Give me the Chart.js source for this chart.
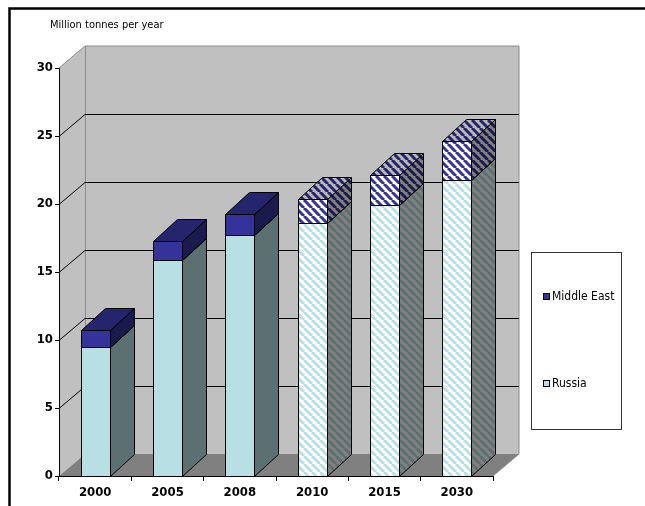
<!DOCTYPE html>
<html>
<head>
<meta charset="utf-8">
<script src="https://cdn.jsdelivr.net/npm/chart.js@4"></script>
<style>
  html, body { margin: 0; padding: 0; background: #fff; }
  canvas { display: block; }
</style>
</head>
<body>
<canvas id="grafico" width="645" height="506"></canvas>
<script>
// Producción en millones de toneladas por año, barras apiladas en 3D
const anios = ["2000", "2005", "2008", "2010", "2015", "2030"];
const rusia = [9.5, 15.9, 17.7, 18.6, 19.9, 21.8];
const medioOriente = [1.2, 1.4, 1.6, 1.8, 2.2, 2.8];
const proyectado = [false, false, false, true, true, true];
const marcasY = [0, 5, 10, 15, 20, 25, 30];

const FUENTE = "'DejaVu Sans Condensed', 'DejaVu Sans', sans-serif";
const DX_PARED = 26, DX_BARRA = 24, DY = 22;

function sombra(hex, f) {
  const n = parseInt(hex.slice(1), 16);
  const r = Math.round(((n >> 16) & 255) * f);
  const g = Math.round(((n >> 8) & 255) * f);
  const b = Math.round((n & 255) * f);
  return `rgb(${r},${g},${b})`;
}

function rayado(ctx, fondo, linea) {
  const t = 8;
  const c = document.createElement("canvas");
  c.width = t; c.height = t;
  const p = c.getContext("2d");
  p.fillStyle = fondo;
  p.fillRect(0, 0, t, t);
  p.strokeStyle = linea;
  p.lineWidth = 3;
  for (let k = -1; k <= 1; k++) {
    p.beginPath();
    p.moveTo(k * t, 0);
    p.lineTo(k * t + t, t);
    p.stroke();
  }
  return ctx.createPattern(c, "repeat");
}

function poligono(ctx, pts, relleno, borde) {
  ctx.beginPath();
  ctx.moveTo(pts[0][0], pts[0][1]);
  for (let i = 1; i < pts.length; i++) ctx.lineTo(pts[i][0], pts[i][1]);
  ctx.closePath();
  if (relleno) { ctx.fillStyle = relleno; ctx.fill(); }
  if (borde) { ctx.strokeStyle = borde; ctx.lineWidth = 1; ctx.stroke(); }
}

function bloque(ctx, x0, x1, yt, yb, color, rayas) {
  const caras = [1, 0.72, 0.5].map(f =>
    rayas ? rayado(ctx, sombra("#ffffff", f), sombra(color, f)) : sombra(color, f)
  );
  // frente
  poligono(ctx, [[x0, yt], [x1, yt], [x1, yb], [x0, yb]], caras[0], "#000");
  // lateral
  poligono(ctx, [[x1, yb], [x1, yt], [x1 + DX_BARRA, yt - DY], [x1 + DX_BARRA, yb - DY]], caras[2], "#000");
  // tapa
  poligono(ctx, [[x0, yt], [x1, yt], [x1 + DX_BARRA, yt - DY], [x0 + DX_BARRA, yt - DY]], caras[1], "#000");
}

const escena3d = {
  id: "escena3d",
  beforeDraw(chart) {
    const { ctx, chartArea: a, scales: { y } } = chart;
    const L = a.left, R = a.right, T = a.top, B = a.bottom;
    ctx.save();

    // marco exterior
    ctx.strokeStyle = "#000";
    ctx.lineWidth = 2.5;
    ctx.beginPath();
    ctx.moveTo(9.5, 506);
    ctx.lineTo(9.5, 8.5);
    ctx.lineTo(645, 8.5);
    ctx.stroke();

    // título del eje
    ctx.fillStyle = "#000";
    ctx.font = `11px ${FUENTE}`;
    ctx.textBaseline = "middle";
    ctx.fillText("Million tonnes per year", 50, 25);

    // paredes y piso
    poligono(ctx, [[L, T], [L + DX_PARED, T - DY], [L + DX_PARED, B - DY], [L, B]], "#c0c0c0");
    poligono(ctx, [[L + DX_PARED, T - DY], [R + DX_PARED, T - DY], [R + DX_PARED, B - DY], [L + DX_PARED, B - DY]], "#c0c0c0");
    poligono(ctx, [[L, B], [R, B], [R + DX_PARED, B - DY], [L + DX_PARED, B - DY]], "#808080");

    ctx.strokeStyle = "#8c8c8c";
    ctx.lineWidth = 1;
    ctx.beginPath();
    ctx.moveTo(L, T);
    ctx.lineTo(L + DX_PARED, T - DY);
    ctx.lineTo(R + DX_PARED, T - DY);
    ctx.lineTo(R + DX_PARED, B - DY);
    ctx.lineTo(R, B);
    ctx.moveTo(L + DX_PARED + 0.5, T - DY);
    ctx.lineTo(L + DX_PARED + 0.5, B - DY);
    ctx.stroke();

    // líneas de la grilla
    ctx.strokeStyle = "#000";
    marcasY.forEach(v => {
      if (v === 0 || v === 30) return;
      const yy = Math.round(y.getPixelForValue(v)) + 0.5;
      ctx.beginPath();
      ctx.moveTo(L, yy);
      ctx.lineTo(L + DX_PARED, yy - DY);
      ctx.lineTo(R + DX_PARED, yy - DY);
      ctx.stroke();
    });
    ctx.restore();
  },
  afterDatasetsDraw(chart) {
    const ctx = chart.ctx;
    ctx.save();
    anios.forEach((_, i) => {
      chart.data.datasets.forEach((ds, d) => {
        const el = chart.getDatasetMeta(d).data[i];
        const { x, y, base, width } = el.getProps(["x", "y", "base", "width"], true);
        const x0 = Math.round(x - width / 2) + 0.5;
        const x1 = Math.round(x + width / 2) + 0.5;
        bloque(ctx, x0, x1, Math.round(y) + 0.5, Math.round(base) + 0.5, ds.colorBase, proyectado[i]);
      });
    });
    ctx.restore();
  },
  afterDraw(chart) {
    const ctx = chart.ctx;
    ctx.save();
    ctx.strokeStyle = "#333";
    ctx.lineWidth = 1;
    ctx.strokeRect(531.5, 252.5, 90, 177);
    ctx.font = `12px ${FUENTE}`;
    ctx.textBaseline = "middle";
    // la leyenda muestra primero la serie de arriba
    const items = chart.data.datasets.slice().reverse();
    const posY = [297, 384];
    items.forEach((ds, k) => {
      ctx.fillStyle = ds.colorBase;
      ctx.fillRect(543.5, posY[k] - 3.5, 6, 6);
      ctx.strokeStyle = "#000";
      ctx.strokeRect(543.5, posY[k] - 3.5, 6, 6);
      ctx.fillStyle = "#000";
      ctx.fillText(ds.label, 552, posY[k]);
    });
    ctx.restore();
  }
};

const ctx = document.getElementById("grafico");
new Chart(ctx, {
  type: "bar",
  data: {
    labels: anios,
    datasets: [
      { label: "Russia", data: rusia, colorBase: "#b8e0e4", backgroundColor: "rgba(0,0,0,0)", borderWidth: 0 },
      { label: "Middle East", data: medioOriente, colorBase: "#333399", backgroundColor: "rgba(0,0,0,0)", borderWidth: 0 },
    ],
  },
  options: {
    responsive: false,
    animation: false,
    events: [],
    layout: { padding: { top: 68, right: 152, bottom: 0, left: 0 } },
    datasets: { bar: { categoryPercentage: 1, barPercentage: 0.4 } },
    scales: {
      x: {
        stacked: true,
        afterFit: s => { s.height = 30; },
        border: { color: "#000" },
        grid: { offset: true, drawOnChartArea: false, tickLength: 5, tickColor: "#000" },
        ticks: { color: "#000", padding: 4, font: { family: FUENTE, size: 13, weight: "bold" } },
      },
      y: {
        stacked: true,
        min: 0,
        max: 30,
        afterFit: s => { s.width = 59; },
        afterBuildTicks: s => { s.ticks = marcasY.map(v => ({ value: v })); },
        border: { color: "#000" },
        grid: { drawOnChartArea: false, tickLength: 4, tickColor: "#000" },
        ticks: { color: "#000", padding: 2, font: { family: FUENTE, size: 13, weight: "bold" } },
      },
    },
    plugins: {
      legend: { display: false },
      tooltip: { enabled: false },
    },
  },
  plugins: [escena3d],
});
</script>
</body>
</html>
